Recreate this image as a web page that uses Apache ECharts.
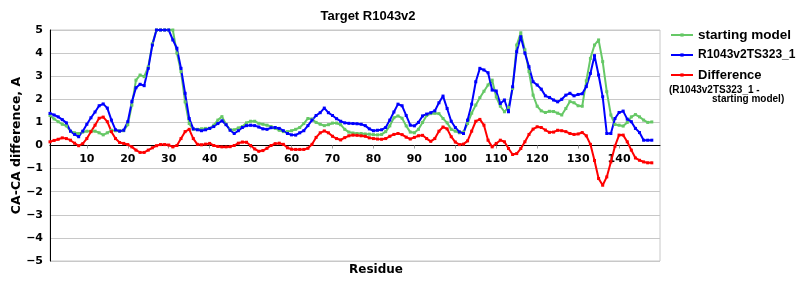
<!DOCTYPE html>
<html>
<head>
<meta charset="utf-8">
<script src="https://cdn.jsdelivr.net/npm/echarts@6/dist/echarts.min.js"></script>
<style>html,body{margin:0;padding:0;background:#fff}#c{width:800px;height:300px}</style>
</head>
<body>
<div id="c"></div>
<script>
var firstResidue = 1;
var lastAxisResidue = 150;
var xTickStep = 10;
var yTickLabels = [-5, -4, -3, -2, -1, 0, 1, 2, 3, 4, 5];

var startingModel = [
 1.30,1.15,1.03,0.92,0.85,0.62,0.55,0.52,0.58,0.62,
 0.62,0.62,0.55,0.46,0.55,0.66,0.64,0.64,0.64,0.90,
 1.75,2.83,3.05,2.98,3.40,4.40,5.00,5.00,5.00,5.00,
 5.00,4.00,3.20,1.89,0.95,0.70,0.70,0.72,0.74,0.74,
 0.88,1.10,1.25,0.92,0.68,0.68,0.76,0.82,0.98,1.05,
 1.05,0.96,0.92,0.88,0.82,0.74,0.66,0.60,0.60,0.64,
 0.70,0.78,0.95,1.17,1.15,1.00,0.92,0.86,0.90,0.97,
 0.97,0.90,0.70,0.58,0.54,0.52,0.52,0.50,0.49,0.47,
 0.46,0.48,0.60,0.85,1.20,1.28,1.18,0.85,0.58,0.55,
 0.70,1.00,1.30,1.38,1.40,1.38,1.17,0.98,0.70,0.62,
 0.55,0.58,0.95,1.40,1.75,2.07,2.35,2.62,2.83,2.10,
 1.70,1.46,1.65,2.47,4.35,4.88,4.14,3.20,2.18,1.70,
 1.50,1.43,1.48,1.47,1.40,1.32,1.60,1.90,1.85,1.72,
 1.70,2.80,3.77,4.35,4.57,3.63,2.33,1.32,0.91,0.88,
 0.84,1.00,1.24,1.34,1.24,1.10,1.00,1.02
];
var modelTS323 = [
 1.39,1.32,1.24,1.12,0.98,0.62,0.48,0.38,0.62,0.92,
 1.20,1.45,1.72,1.80,1.62,1.10,0.68,0.62,0.66,1.03,
 1.90,2.50,2.65,2.59,3.34,4.35,5.00,5.00,5.00,5.00,
 4.57,4.21,3.34,2.26,1.17,0.72,0.68,0.64,0.68,0.74,
 0.82,0.95,1.07,0.90,0.66,0.52,0.64,0.78,0.86,0.88,
 0.86,0.80,0.72,0.70,0.77,0.78,0.74,0.64,0.52,0.46,
 0.45,0.55,0.64,0.86,1.10,1.30,1.42,1.62,1.42,1.30,
 1.16,1.05,0.98,0.96,0.95,0.94,0.92,0.86,0.72,0.64,
 0.66,0.68,0.78,1.10,1.45,1.79,1.72,1.30,0.88,0.85,
 1.00,1.28,1.36,1.42,1.50,1.85,2.14,1.60,1.05,0.78,
 0.59,0.52,1.10,1.79,2.76,3.34,3.27,3.15,2.40,2.36,
 1.82,1.97,1.46,2.54,4.06,4.71,4.00,3.41,2.76,2.62,
 2.44,2.15,2.08,1.97,1.89,2.00,2.18,2.26,2.15,2.21,
 2.24,2.55,3.12,3.89,3.05,2.11,0.52,0.52,1.17,1.43,
 1.49,1.14,1.03,0.74,0.56,0.23,0.23,0.23
];
var difference = [
 0.16,0.22,0.27,0.33,0.30,0.23,0.10,-0.01,0.08,0.30,
 0.60,0.88,1.18,1.23,1.03,0.60,0.30,0.13,0.09,0.04,
 -0.06,-0.20,-0.30,-0.30,-0.20,-0.10,-0.01,0.04,0.04,0.02,
 -0.06,0.00,0.30,0.60,0.70,0.30,0.05,0.03,0.06,0.09,
 0.00,-0.04,-0.06,-0.06,-0.05,0.00,0.10,0.15,0.14,0.00,
 -0.15,-0.25,-0.22,-0.12,0.00,0.08,0.10,0.05,-0.10,-0.16,
 -0.17,-0.17,-0.17,-0.12,0.05,0.35,0.55,0.63,0.55,0.40,
 0.30,0.24,0.34,0.42,0.45,0.44,0.42,0.40,0.33,0.30,
 0.28,0.27,0.30,0.40,0.48,0.52,0.47,0.36,0.28,0.35,
 0.42,0.44,0.30,0.18,0.30,0.62,0.80,0.72,0.38,0.15,
 0.04,0.06,0.20,0.62,1.05,1.13,0.88,0.23,-0.06,0.09,
 0.23,0.16,-0.13,-0.39,-0.35,-0.13,0.16,0.48,0.71,0.81,
 0.78,0.67,0.57,0.58,0.66,0.64,0.60,0.52,0.48,0.50,
 0.56,0.42,0.05,-0.65,-1.43,-1.72,-1.36,-0.71,-0.03,0.45,
 0.45,0.16,-0.20,-0.54,-0.64,-0.71,-0.75,-0.75
];

var residues = [];
for (var r = firstResidue; r <= lastAxisResidue; r++) residues.push(String(r));

function isMajor(index, value) {
  var v = Number(value);
  return v % xTickStep === 0 && v < lastAxisResidue;
}

var gridTop = 30, gridBottom = 39, chartH = 300;
var plotH = chartH - gridTop - gridBottom;
var yMin = yTickLabels[0], yMax = yTickLabels[yTickLabels.length - 1];
// distance from plot bottom up to the zero line, so the labels sit under y = 0
var zeroLift = plotH * (0 - yMin) / (yMax - yMin);

var labelFont = { fontFamily: 'DejaVu Sans', fontWeight: 'bold', fontSize: 11, color: '#000' };
var legendFont = { fontFamily: 'Liberation Sans', fontWeight: 'bold', color: '#000', lineHeight: 14 };
var splitColors = yTickLabels.map(function (v) { return v === 0 ? 'rgba(0,0,0,0)' : '#c8c8c8'; });

var chart = echarts.init(document.getElementById('c'), null, { renderer: 'canvas' });
chart.setOption({
  animation: false,
  backgroundColor: '#fff',
  grid: { left: 50, right: 140, top: gridTop, bottom: gridBottom, show: true, borderColor: '#c8c8c8', borderWidth: 1,
          outerBoundsMode: 'none', containLabel: false },
  graphic: [
    { type: 'text', x: 368, y: 16, style: { text: 'Target R1043v2', font: 'bold 13px "Liberation Sans", Arial', fill: '#000', textAlign: 'center', textVerticalAlign: 'middle' } },
    { type: 'text', x: 669, y: 90, style: { text: '(R1043v2TS323_1 -', font: 'bold 10px "Liberation Sans", Arial', fill: '#000', textAlign: 'left', textVerticalAlign: 'middle' } },
    { type: 'text', x: 712, y: 99, style: { text: 'starting model)', font: 'bold 10px "Liberation Sans", Arial', fill: '#000', textAlign: 'left', textVerticalAlign: 'middle' } }
  ],
  legend: {
    orient: 'vertical', left: 670, top: 28, padding: 0, itemWidth: 22, itemHeight: 4, itemGap: 6,
    textStyle: Object.assign({ fontSize: 13 }, legendFont),
    data: [
      { name: 'starting model', textStyle: Object.assign({ fontSize: 13.5 }, legendFont) },
      { name: 'R1043v2TS323_1', textStyle: Object.assign({ fontSize: 12 }, legendFont) },
      { name: 'Difference', textStyle: Object.assign({ fontSize: 13 }, legendFont) }
    ]
  },
  xAxis: [
    {
      type: 'category', data: residues, boundaryGap: false, position: 'bottom',
      name: 'Residue', nameLocation: 'middle', nameGap: 3, nameMoveOverlap: false,
      nameTextStyle: { fontFamily: 'DejaVu Sans', fontWeight: 'bold', fontSize: 12, color: '#000', padding: [0, 0, 0, 42] },
      axisLine: { show: false, onZero: false },
      axisTick: { show: false },
      axisLabel: Object.assign({ margin: 8.5 - zeroLift, interval: isMajor, hideOverlap: false }, labelFont),
      splitLine: { show: false }
    },
    {
      type: 'category', data: residues, boundaryGap: false, position: 'bottom',
      axisLine: { show: true, onZero: true, lineStyle: { color: '#000', width: 1 } },
      axisTick: { show: true, length: 3, lineStyle: { color: '#999' }, interval: isMajor },
      axisLabel: { show: false },
      splitLine: { show: false }
    }
  ],
  yAxis: {
    type: 'value', min: yMin, max: yMax, interval: 1,
    name: 'CA-CA difference, A', nameLocation: 'middle', nameGap: 27, nameMoveOverlap: false,
    nameTextStyle: { fontFamily: 'DejaVu Sans', fontWeight: 'bold', fontSize: 12.5, color: '#000' },
    axisLine: { show: true, onZero: false, lineStyle: { color: '#000', width: 1 } },
    axisTick: { show: false },
    axisLabel: Object.assign({ margin: 7, formatter: function (v) { return v < 0 ? '\u2212' + Math.abs(v) : String(v); } }, labelFont),
    splitLine: { show: true, lineStyle: { color: splitColors, width: 1 } }
  },
  series: [
    { name: 'starting model', type: 'line', xAxisIndex: 1, data: startingModel, color: '#66c866',
      lineStyle: { width: 2 }, symbol: 'rect', symbolSize: 3, showSymbol: true, showAllSymbol: true },
    { name: 'R1043v2TS323_1', type: 'line', xAxisIndex: 1, data: modelTS323, color: '#0000ff',
      lineStyle: { width: 2 }, symbol: 'rect', symbolSize: 3, showSymbol: true, showAllSymbol: true },
    { name: 'Difference', type: 'line', xAxisIndex: 1, data: difference, color: '#ff0000',
      lineStyle: { width: 2 }, symbol: 'rect', symbolSize: 3, showSymbol: true, showAllSymbol: true }
  ]
});
</script>
</body>
</html>
